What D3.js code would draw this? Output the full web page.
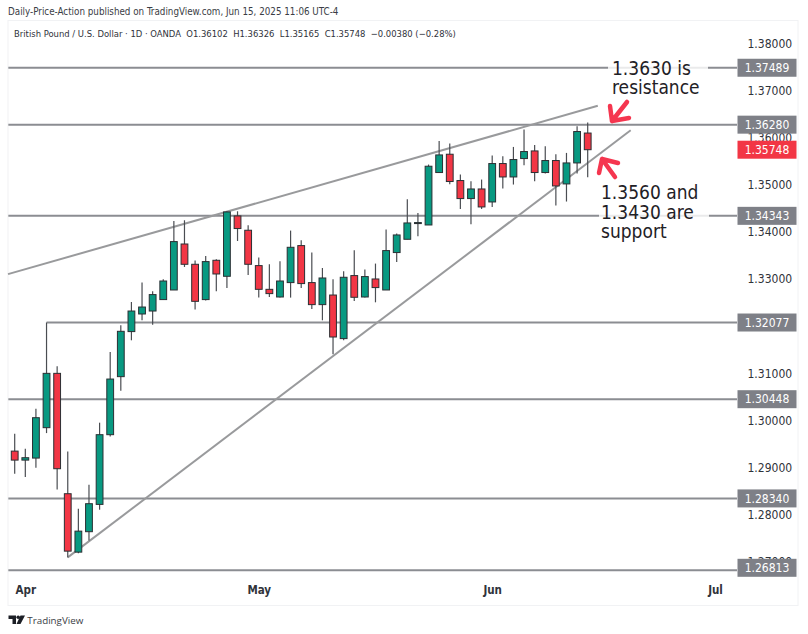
<!DOCTYPE html>
<html><head><meta charset="utf-8">
<script src="https://cdnjs.cloudflare.com/ajax/libs/d3/7.9.0/d3.min.js"></script>
<style>html,body{margin:0;padding:0;background:#fff}svg{display:block}</style>
</head><body><svg id="c" width="808" height="634"></svg>
<script>
const opens=[1.29345,1.29154,1.29197,1.29843,1.30997,1.28440,1.27199,1.27633,1.28213,1.29694,1.30927,1.31884,1.32258,1.32321,1.32564,1.32768,1.33745,1.33314,1.32564,1.33399,1.33059,1.34341,1.34037,1.33286,1.32782,1.32619,1.32925,1.33711,1.32925,1.32457,1.32661,1.31735,1.33074,1.32619,1.33002,1.32768,1.33563,1.33845,1.34185,1.34149,1.35263,1.35652,1.35093,1.34710,1.34914,1.34638,1.35454,1.35169,1.35560,1.35722,1.35263,1.35518,1.35021,1.35467,1.36102];
const highs=[1.29715,1.29396,1.30247,1.32077,1.31146,1.29339,1.28121,1.28631,1.29949,1.31450,1.32017,1.32513,1.32925,1.32740,1.32995,1.34234,1.34249,1.33392,1.33490,1.33420,1.34440,1.34440,1.34143,1.33456,1.33314,1.33378,1.34030,1.33824,1.33562,1.33235,1.32995,1.33165,1.33611,1.33201,1.33329,1.34051,1.33966,1.34695,1.34404,1.35433,1.35935,1.35879,1.35220,1.35078,1.35114,1.35624,1.35609,1.35807,1.36177,1.35850,1.35822,1.35652,1.35680,1.36247,1.36326];
const lows=[1.28865,1.28793,1.28993,1.29728,1.28531,1.27087,1.27177,1.27448,1.28100,1.29658,1.30630,1.31699,1.32124,1.32032,1.32564,1.32768,1.33257,1.32351,1.32542,1.32740,1.32810,1.33809,1.33086,1.32606,1.32619,1.32606,1.32606,1.32810,1.32364,1.32124,1.31401,1.31699,1.32534,1.32606,1.32506,1.32768,1.33363,1.33845,1.33909,1.34149,1.35263,1.35014,1.34489,1.34164,1.34489,1.34532,1.34923,1.35008,1.35418,1.35078,1.35242,1.34562,1.34647,1.35242,1.35165];
const closes=[1.29154,1.29205,1.30055,1.30997,1.28971,1.27220,1.27645,1.28228,1.29694,1.30876,1.31890,1.32321,1.32406,1.32670,1.32959,1.33796,1.33314,1.32527,1.33371,1.33108,1.34426,1.34073,1.33314,1.32782,1.32691,1.32959,1.33675,1.32904,1.32457,1.33023,1.31769,1.33038,1.32613,1.33053,1.32819,1.33605,1.33937,1.34192,1.34200,1.35397,1.35637,1.35072,1.34710,1.34914,1.34532,1.35454,1.35169,1.35539,1.35709,1.35263,1.35518,1.34978,1.35467,1.36134,1.35748];

const priceTicks=[1.38,1.37,1.36,1.35,1.34,1.33,1.31,1.30,1.29,1.28,1.27];
const monthLabels=["Apr","May","Jun","Jul"];
const monthIndex=[1,23,45,66];
const levels=[1.37489,1.36280,1.34343,1.32077,1.30448,1.28340,1.26813];
const levelStart=[-0.6,-0.6,-0.6,3,-0.6,-0.6,-0.6];
const lastPrice=1.35748;
const trendUpper=[[-0.63,1.33105],[54.95,1.36680]];
const trendLower=[[5,1.27087],[58.05,1.36160]];

const x=d3.scaleLinear().domain([0,54]).range([14.7,587.7]);
const y=d3.scaleLinear().domain([1.38,1.27]).range([43.7,561.5]);
const svg=d3.select("#c");
const FONT='"DejaVu Sans Condensed","DejaVu Sans",sans-serif';
const GREEN="#089981",RED="#f23645",EDGE="#2b2f33",LINE="#8b8d92",TREND="#999a9c",TAG="#7e8087";
const rightX=737;

svg.append("rect").attr("x",8).attr("y",20.5).attr("width",790).attr("height",585)
  .attr("fill","#fff").attr("stroke","#f1f2f4");

// header
svg.append("text").attr("x",8).attr("y",15).attr("font-family",FONT).attr("font-stretch","condensed").attr("font-size",9.75).attr("fill","#3a3d45")
  .text("Daily-Price-Action published on TradingView.com, Jun 15, 2025 11:06 UTC-4");
svg.append("text").attr("x",14).attr("y",37).attr("font-family",FONT).attr("font-stretch","condensed").attr("font-size",9.4).attr("fill","#2f323a")
  .attr("xml:space","preserve")
  .text("British Pound / U.S. Dollar · 1D · OANDA  O1.36102  H1.36326  L1.35165  C1.35748  −0.00380 (−0.28%)");

// price axis
const yAxis=d3.axisRight(y).tickValues(priceTicks).tickSize(0).tickPadding(0).tickFormat(d3.format(".5f"));
const gy=svg.append("g").attr("transform","translate(747.5,0)").call(yAxis);
gy.select(".domain").remove();
gy.selectAll("text").attr("font-family",FONT).attr("font-stretch","condensed").attr("font-size",12).attr("fill","#30333a");

// time axis
const xAxis=d3.axisBottom(x).tickValues(monthIndex).tickSize(0).tickPadding(0).tickFormat((d,i)=>monthLabels[i]);
const gx=svg.append("g").attr("transform","translate(0,586)").call(xAxis);
gx.select(".domain").remove();
gx.selectAll("text").attr("font-family",FONT).attr("font-stretch","condensed").attr("font-size",11.5).attr("font-weight",700).attr("fill","#30333a");

// levels
svg.append("g").selectAll("line").data(levels).join("line")
  .attr("x1",(d,i)=>x(levelStart[i])).attr("x2",rightX)
  .attr("y1",d=>y(d)).attr("y2",d=>y(d))
  .attr("stroke",LINE).attr("stroke-width",2);

// trend lines
const tl=d3.line().x(d=>x(d[0])).y(d=>y(d[1]));
svg.append("g").selectAll("path").data([trendUpper,trendLower]).join("path")
  .attr("d",tl).attr("fill","none").attr("stroke",TREND).attr("stroke-width",2);

// candles
const idx=d3.range(opens.length);
const cg=svg.append("g");
cg.selectAll("line").data(idx).join("line")
  .attr("x1",i=>x(i)).attr("x2",i=>x(i))
  .attr("y1",i=>y(highs[i])).attr("y2",i=>y(lows[i]))
  .attr("stroke","#4a4d52").attr("stroke-width",1.2);
cg.selectAll("rect").data(idx).join("rect")
  .attr("x",i=>x(i)-3.4).attr("width",6.8)
  .attr("y",i=>y(Math.max(opens[i],closes[i])))
  .attr("height",i=>Math.max(1,Math.abs(y(opens[i])-y(closes[i]))))
  .attr("fill",i=>closes[i]>=opens[i]?GREEN:RED)
  .attr("stroke",EDGE).attr("stroke-width",1);

// price labels (the lowest tag sits a little above its line, as the axis edge pushes it up)
const lab=svg.append("g").attr("font-family",FONT).attr("font-stretch","condensed").attr("font-size",12);
const allLabels=levels.map(v=>({v,c:TAG,dy:v===1.26813?-2.5:0})).concat([{v:lastPrice,c:RED,dy:0}]);
lab.selectAll("rect").data(allLabels).join("rect")
  .attr("x",737.5).attr("width",59).attr("y",d=>y(d.v)+d.dy-9).attr("height",18).attr("fill",d=>d.c);
lab.selectAll("text").data(allLabels).join("text")
  .attr("x",767).attr("y",d=>y(d.v)+d.dy+4.3).attr("text-anchor","middle").attr("fill","#fff")
  .text(d=>d3.format(".5f")(d.v));

// annotations
const noteBoxes=[[608,59,100,40],[599,180,110,62]];
svg.append("g").selectAll("rect").data(noteBoxes).join("rect")
  .attr("x",d=>d[0]).attr("y",d=>d[1]).attr("width",d=>d[2]).attr("height",d=>d[3])
  .attr("fill","#fff").attr("fill-opacity",0.82);
const notes=[["1.3630 is",612,75],["resistance",612,94],["1.3560 and",601,199],["1.3430 are",601,218.5],["support",601,238]];
svg.append("g").selectAll("text").data(notes).join("text")
  .attr("x",d=>d[1]).attr("y",d=>d[2]).attr("font-family",FONT).attr("font-stretch","condensed").attr("font-size",19).attr("fill","#1f2126")
  .text(d=>d[0]);

// arrows
const arrows=["M627 102L612 121M610 106L612 121L629 118","M615 177L602 159M599 173L602 159L618 163"];
svg.append("g").selectAll("path").data(arrows).join("path").attr("d",d=>d)
  .attr("fill","none").attr("stroke","#f5364f").attr("stroke-width",4.5).attr("stroke-linecap","round").attr("stroke-linejoin","round");

// footer logo
const logo=svg.append("g").attr("fill","#1c1f26");
logo.append("path").attr("d","M8.5 615.5H16V624H12.5V619H8.5Z");
logo.append("circle").attr("cx",18.2).attr("cy",617.3).attr("r",1.8);
logo.append("path").attr("d","M20.5 615.5H25L20.5 624H16.5Z");
svg.append("text").attr("x",27.3).attr("y",623.5).attr("font-family",'"Open Sans",sans-serif').attr("font-size",9.8).attr("fill","#3a3d45").text("TradingView");
</script></body></html>
